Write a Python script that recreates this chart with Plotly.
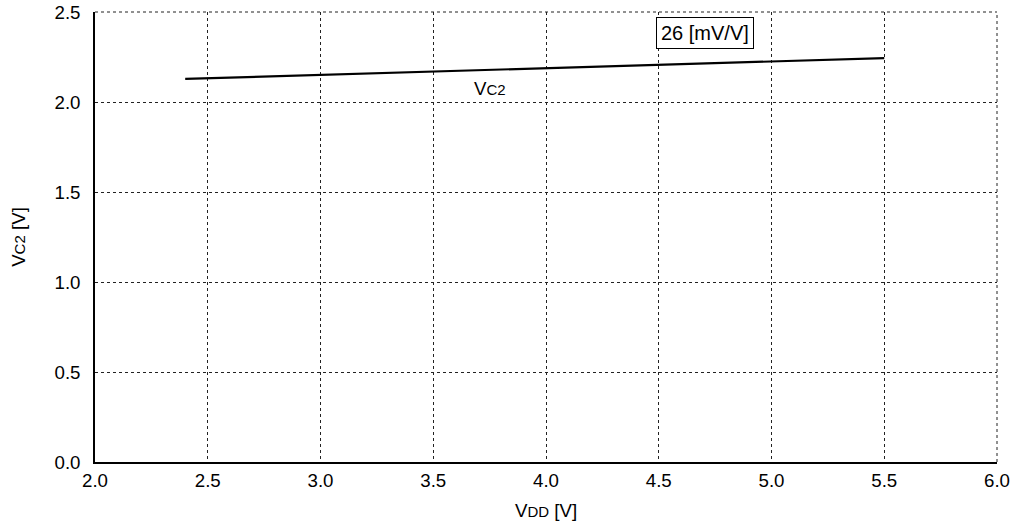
import plotly.graph_objects as go

vdd = [2.4, 5.5]
vc2 = [2.128, 2.244]
x_ticks = [2.0, 2.5, 3.0, 3.5, 4.0, 4.5, 5.0, 5.5, 6.0]
y_ticks = [0.0, 0.5, 1.0, 1.5, 2.0, 2.5]
curve_label = "V<span style='font-size:15px'>C2</span>"
slope_label = "26 [mV/V]"

FS = 18.7

fig = go.Figure()
fig.add_trace(go.Scatter(x=vdd, y=vc2, mode="lines",
                         line=dict(color="black", width=2.2), showlegend=False))

fig.add_annotation(x=3.75, y=2.075, text=curve_label, showarrow=False,
                   font=dict(size=FS, color="black"))
fig.add_annotation(x=4.707, y=2.383, text=slope_label, showarrow=False,
                   font=dict(size=20, color="black"), bordercolor="black",
                   borderwidth=1, borderpad=4, bgcolor="white")

axis_common = dict(showgrid=True, gridcolor="#222", griddash="dot", gridwidth=1,
                   showline=True, linecolor="black", linewidth=1.5, ticks="",
                   zeroline=False, automargin=False, ticklabeloverflow="allow",
                   tickfont=dict(size=FS, color="black"))

fig.update_xaxes(range=[2.0, 6.0], tickvals=x_ticks,
                 ticktext=[f"{v:.1f}" for v in x_ticks],
                 ticklabelstandoff=1,
                 title=dict(text="V<span style='font-size:15px'>DD</span> [V]",
                            font=dict(size=FS, color="black"), standoff=14),
                 **axis_common)
fig.update_yaxes(range=[0.0, 2.5], tickvals=y_ticks,
                 ticktext=[f"{v:.1f}" for v in y_ticks],
                 ticklabelstandoff=9,
                 title=dict(text="V<span style='font-size:15px'>C2</span> [V]",
                            font=dict(size=FS, color="black"), standoff=24),
                 **axis_common)

fig.add_shape(type="line", xref="paper", yref="paper", x0=0, x1=1, y0=1, y1=1,
              line=dict(color="#222", width=1, dash="dot"))
fig.add_shape(type="line", xref="paper", yref="paper", x0=1, x1=1, y0=0, y1=1,
              line=dict(color="#222", width=1, dash="dot"))

fig.update_layout(width=1018, height=526, plot_bgcolor="white", paper_bgcolor="white",
                  margin=dict(l=95, r=21, t=12, b=64),
                  font=dict(family="Liberation Sans, Arial, sans-serif", color="black"))

fig.write_html("out.html", config={"displayModeBar": False},
               post_script="document.body.style.margin='0';document.body.style.overflow='hidden';")
